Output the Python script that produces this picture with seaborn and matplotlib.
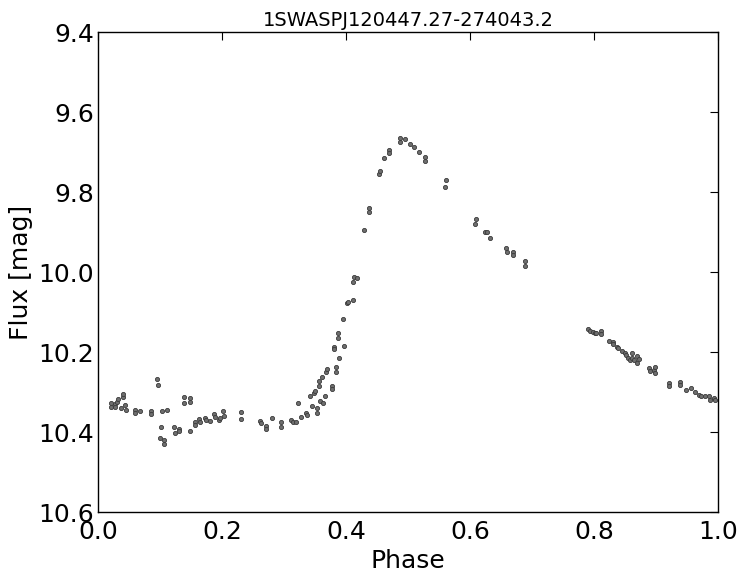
import matplotlib
matplotlib.use("Agg")
import matplotlib.pyplot as plt
import seaborn as sns
import pandas as pd

title = "1SWASPJ120447.27-274043.2"

phase = [
    0.021, 0.021, 0.027, 0.027, 0.031, 0.033, 0.037, 0.041, 0.041, 0.044, 0.045,
    0.059, 0.059, 0.068, 0.085, 0.085, 0.095, 0.096, 0.103, 0.111, 0.101,
    0.100, 0.107, 0.107, 0.123, 0.124, 0.130, 0.130, 0.138, 0.139, 0.148, 0.148,
    0.149, 0.156, 0.156, 0.163, 0.165, 0.173, 0.174, 0.180, 0.187, 0.189,
    0.195, 0.197, 0.202, 0.203, 0.230, 0.230,
    0.261, 0.263, 0.271, 0.271, 0.280, 0.295, 0.295, 0.311, 0.315, 0.319,
    0.323, 0.327, 0.335, 0.337, 0.342, 0.345, 0.349, 0.350, 0.353, 0.354,
    0.356, 0.356, 0.358, 0.363, 0.362, 0.366, 0.368, 0.370, 0.377, 0.377,
    0.384, 0.384, 0.380, 0.381, 0.389, 0.396, 0.387, 0.387, 0.395,
    0.401, 0.404, 0.411, 0.411, 0.413, 0.417,
    0.429, 0.437, 0.437, 0.453, 0.455, 0.461, 0.469, 0.469,
    0.487, 0.487, 0.495, 0.503, 0.510, 0.518, 0.527, 0.527, 0.561, 0.560,
    0.609, 0.608, 0.624, 0.627, 0.633, 0.658, 0.659, 0.669, 0.669, 0.689, 0.688,
    0.791, 0.794, 0.798, 0.802, 0.804, 0.811, 0.811,
    0.824, 0.831, 0.831, 0.837, 0.839, 0.845, 0.850, 0.852,
    0.855, 0.858, 0.862, 0.862, 0.864, 0.870, 0.872, 0.870,
    0.889, 0.890, 0.896, 0.898, 0.898,
    0.921, 0.921, 0.938, 0.938, 0.948, 0.956, 0.963, 0.970, 0.972, 0.979,
    0.986, 0.987, 0.994, 0.995,
]

flux = [
    10.328, 10.338, 10.331, 10.337, 10.324, 10.318, 10.341, 10.312, 10.306, 10.333, 10.345,
    10.345, 10.353, 10.348, 10.347, 10.356, 10.268, 10.282, 10.347, 10.345, 10.387,
    10.416, 10.420, 10.431, 10.387, 10.402, 10.393, 10.398, 10.313, 10.328, 10.316, 10.326,
    10.398, 10.376, 10.383, 10.368, 10.376, 10.364, 10.370, 10.372, 10.356, 10.362,
    10.370, 10.366, 10.347, 10.359, 10.349, 10.367,
    10.372, 10.378, 10.384, 10.393, 10.364, 10.374, 10.387, 10.370, 10.374, 10.374,
    10.327, 10.363, 10.353, 10.357, 10.309, 10.334, 10.302, 10.297, 10.339, 10.353,
    10.284, 10.272, 10.322, 10.327, 10.263, 10.309, 10.249, 10.243, 10.285, 10.293,
    10.238, 10.249, 10.188, 10.193, 10.216, 10.185, 10.153, 10.164, 10.118,
    10.078, 10.074, 10.070, 10.024, 10.012, 10.016,
    9.895, 9.839, 9.849, 9.756, 9.747, 9.714, 9.695, 9.703,
    9.666, 9.674, 9.667, 9.681, 9.687, 9.701, 9.712, 9.722, 9.770, 9.787,
    9.868, 9.880, 9.899, 9.899, 9.914, 9.941, 9.949, 9.949, 9.957, 9.972, 9.984,
    10.143, 10.147, 10.149, 10.152, 10.153, 10.147, 10.156,
    10.172, 10.174, 10.181, 10.187, 10.191, 10.197, 10.203, 10.208,
    10.214, 10.220, 10.202, 10.216, 10.220, 10.210, 10.218, 10.227,
    10.241, 10.248, 10.245, 10.238, 10.252,
    10.278, 10.285, 10.276, 10.283, 10.295, 10.291, 10.301, 10.3075, 10.309, 10.310,
    10.310, 10.320, 10.316, 10.320,
]

x_ticks = [0.0, 0.2, 0.4, 0.6, 0.8, 1.0]
y_ticks = [9.4, 9.6, 9.8, 10.0, 10.2, 10.4, 10.6]

df = pd.DataFrame({"Phase": phase, "Flux": flux})

sns.set_theme(style="white")
plt.rcParams["font.family"] = ["DejaVu Sans"]

fig = plt.figure(figsize=(7.45, 5.82), dpi=100)
ax = fig.add_axes([98 / 745, 70 / 582, 620 / 745, 480 / 582])

sns.scatterplot(data=df, x="Phase", y="Flux", ax=ax, color="#6e6e6e",
                edgecolor="#3a3a3a", linewidth=0.6, s=9, legend=False)

ax.set_xlim(0.0, 1.0)
ax.set_ylim(10.6, 9.4)
ax.set_xticks(x_ticks)
ax.set_xticklabels([f"{t:.1f}" for t in x_ticks])
ax.set_yticks(y_ticks)
ax.set_yticklabels([f"{t:.1f}" for t in y_ticks])
ax.tick_params(direction="in", length=6, width=0.8, color="black",
               top=True, right=True, labelsize=18, labelcolor="black")
ax.tick_params(axis="x", pad=6)
ax.tick_params(axis="y", pad=3)
for sp in ax.spines.values():
    sp.set_color("black")
    sp.set_linewidth(1.0)
ax.set_xlabel("Phase", fontsize=18, color="black", labelpad=3)
ax.set_ylabel("Flux [mag]", fontsize=18, color="black", labelpad=4)
ax.set_title(title, fontsize=14, color="black", pad=4)

fig.savefig("out.png", dpi=100, facecolor="white")
